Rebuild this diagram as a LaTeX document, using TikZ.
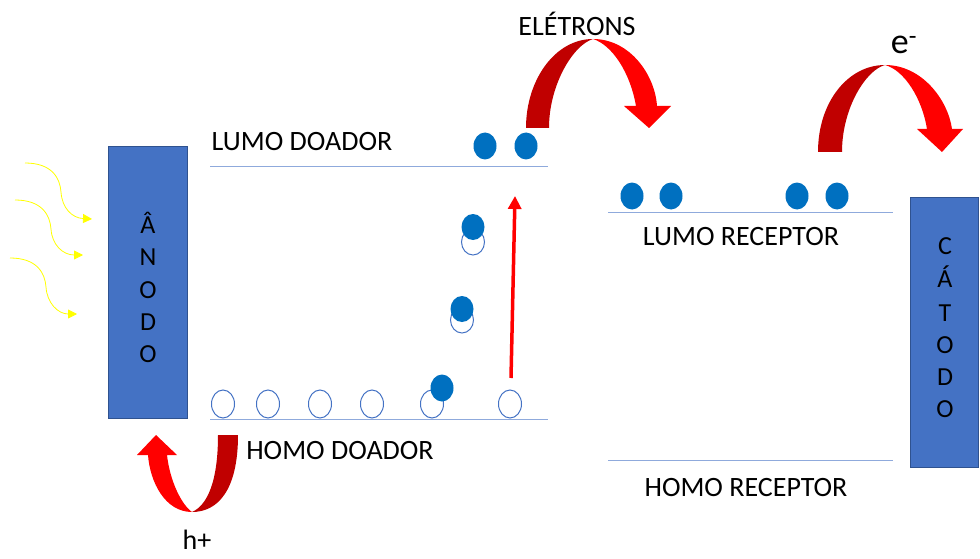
\documentclass[tikz,border=0pt]{standalone}
\usepackage{fontspec}
\setmainfont{Carlito}
\usetikzlibrary{arrows.meta}
\definecolor{electrode}{HTML}{4472C4}
\definecolor{electrodeborder}{HTML}{2F528F}
\definecolor{levelline}{HTML}{8FAADC}
\definecolor{electron}{HTML}{0070C0}
\definecolor{holeline}{HTML}{4472C4}
\definecolor{darkred}{HTML}{C00000}
\definecolor{brightred}{HTML}{FF0000}
\definecolor{lightyellow}{HTML}{FFFF00}
\tikzset{
  electrodebox/.style={draw=electrodeborder, line width=1pt, fill=electrode},
  level/.style={draw=levelline, line width=1pt},
  lbl/.style={font=\fontsize{28}{32}\selectfont, inner sep=0pt},
  letter/.style={font=\fontsize{26}{30}\selectfont, inner sep=0pt, anchor=base},
  photon/.style={draw=lightyellow, line width=0.8pt, -{Triangle[length=9pt,width=9pt]}},
  excite/.style={draw=brightred, line width=3.5pt, -{Triangle[length=13pt,width=13pt]}},
}
\begin{document}
\begin{tikzpicture}[x=1pt,y=-1pt]
\useasboundingbox (0,0) rectangle (980,559);

% electrodes
\draw[electrodebox] (108,147) rectangle (187,418);
\node[letter] (a1) at (148,233) {Â};
\node[letter] (a2) at (148,265) {N};
\node[letter] (a3) at (148,298) {O};
\node[letter] (a4) at (148,330) {D};
\node[letter] (a5) at (148,362) {O};

\draw[electrodebox] (910,197) rectangle (978,467);
\node[letter] (c1) at (945,254) {C};
\node[letter] (c2) at (945,287) {Á};
\node[letter] (c3) at (945,321) {T};
\node[letter] (c4) at (945,353) {O};
\node[letter] (c5) at (945,385) {D};
\node[letter] (c6) at (945,417) {O};

% levels
\draw[level] (210,167) -- (548,167);
\draw[level] (210,419) -- (548,419);
\draw[level] (608,212) -- (893,212);
\draw[level] (608,460) -- (893,460);

\node[lbl] (lumod) at (302,142) {LUMO DOADOR};
\node[lbl] (homod) at (340,451) {HOMO DOADOR};
\node[lbl] (lumor) at (741,237) {LUMO RECEPTOR};
\node[lbl] (homor) at (746,488) {HOMO RECEPTOR};
\node[lbl] (eletrons) at (577,24) {ELÉTRONS};
\node[inner sep=0pt, font=\fontsize{36}{40}\selectfont] (eminus) at (904,45) {e\textsuperscript{-}};
\node[lbl, anchor=base] (hplus) at (197,549) {h+};

% holes on HOMO donor
\foreach \x in {223,268,320,372,432,510}{
  \draw[holeline, line width=1pt, fill=white] (\x,404) ellipse (11.5 and 14);
}
% excited pairs
\draw[holeline, line width=1pt, fill=white] (473,242) ellipse (11.5 and 13);
\fill[electron] (473,227) ellipse (11.5 and 13);
\draw[holeline, line width=1pt, fill=white] (462,320) ellipse (11.5 and 13);
\fill[electron] (462,309) ellipse (11.5 and 13);
\fill[electron] (442,388) ellipse (11.5 and 13.5);

% electrons on LUMO levels
\foreach \x in {485,526}{ \fill[electron] (\x,146) ellipse (11.5 and 13.5); }
\foreach \x in {632,671,797,837}{ \fill[electron] (\x,196) ellipse (11.5 and 13.5); }

% excitation arrow
\coordinate (exs) at (511,378);
\coordinate (exe) at (515,196);
\draw[excite] (exs) -- (exe);

% photons
\draw[photon] (25,163) .. controls (52,163) and (60,178) .. (61,192) .. controls (62,208) and (72,218) .. (92,219);
\draw[photon] (15,200) .. controls (42,200) and (50,215) .. (51,229) .. controls (52,245) and (63,255) .. (83,255);
\draw[photon] (10,258) .. controls (37,258) and (45,273) .. (46,287) .. controls (47,303) and (58,314) .. (77,314);

% ELETRONS curved arrow
\fill[darkred] (526,128) .. controls (526,80) and (555,39) .. (593,39)
   .. controls (573,45) and (549,85) .. (549,128) -- cycle;
\fill[brightred] (593,39) .. controls (630,39) and (655,75) .. (657,106)
   -- (671,106) -- (649,128) -- (624,106) -- (636,106)
   .. controls (630,72) and (612,45) .. (593,39) -- cycle;

% e- curved arrow
\fill[darkred] (818,152) .. controls (818,102) and (848,65) .. (885,65)
   .. controls (866,70) and (842,108) .. (842,152) -- cycle;
\fill[brightred] (885,65) .. controls (922,65) and (948,100) .. (952,129)
   -- (963,129) -- (942,152) -- (917,129) -- (927,129)
   .. controls (922,98) and (904,70) .. (885,65) -- cycle;

% h+ curved arrow
\fill[darkred] (238,435) .. controls (238,490) and (218,512) .. (192,512)
   .. controls (208,505) and (218,480) .. (218,435) -- cycle;
\fill[brightred] (192,512) .. controls (165,512) and (150,482) .. (148,455)
   -- (137,455) -- (156,435) -- (177,455) -- (167,455)
   .. controls (170,482) and (182,505) .. (192,512) -- cycle;
\end{tikzpicture}
\end{document}
